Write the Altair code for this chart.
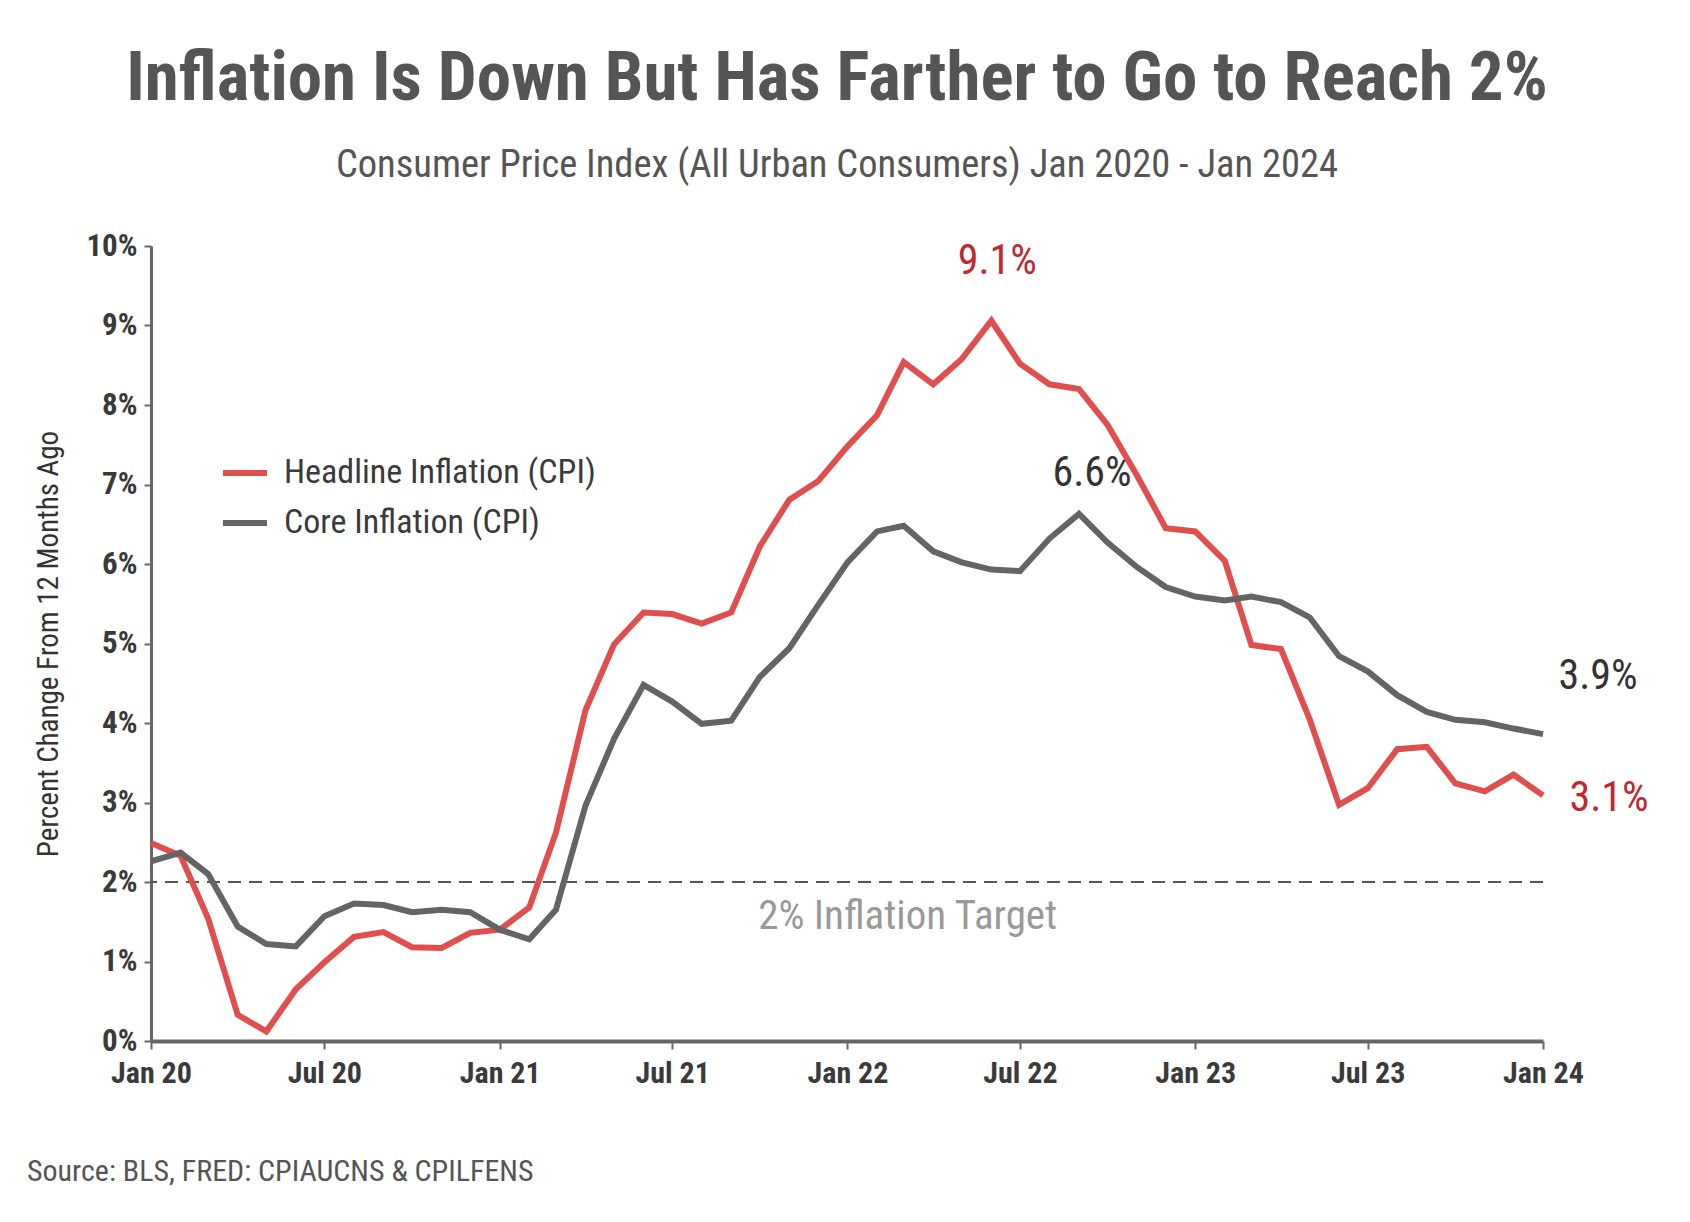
import altair as alt
import pandas as pd

FONT = "Liberation Sans Narrow, Roboto Condensed, DejaVu Sans Condensed, Arial Narrow, sans-serif"

months = [f"{y}-{m:02d}-01T00:00:00" for y in range(2020, 2024) for m in range(1, 13)] + ["2024-01-01T00:00:00"]

headline = [2.49, 2.33, 1.54, 0.33, 0.12, 0.65, 0.99, 1.31, 1.37, 1.18, 1.17, 1.36,
            1.40, 1.68, 2.62, 4.16, 4.99, 5.39, 5.37, 5.25, 5.39, 6.22, 6.81, 7.04,
            7.48, 7.87, 8.54, 8.26, 8.58, 9.06, 8.52, 8.26, 8.20, 7.75, 7.11, 6.45,
            6.41, 6.04, 4.98, 4.93, 4.05, 2.97, 3.18, 3.67, 3.70, 3.24, 3.14, 3.35,
            3.09]
core = [2.26, 2.37, 2.10, 1.44, 1.22, 1.19, 1.57, 1.73, 1.71, 1.62, 1.65, 1.62,
        1.40, 1.28, 1.65, 2.96, 3.80, 4.48, 4.27, 3.99, 4.03, 4.58, 4.94, 5.48,
        6.02, 6.41, 6.48, 6.16, 6.02, 5.93, 5.91, 6.32, 6.63, 6.27, 5.96, 5.71,
        5.59, 5.54, 5.59, 5.52, 5.33, 4.84, 4.65, 4.35, 4.14, 4.04, 4.01, 3.93,
        3.86]

series_names = ["Headline Inflation (CPI)", "Core Inflation (CPI)"]
series_colors = ["#e04e4e", "#646464"]
y_ticks = list(range(0, 11))
x_ticks = [(2020, 1), (2020, 7), (2021, 1), (2021, 7), (2022, 1), (2022, 7), (2023, 1), (2023, 7), (2024, 1)]
target = 2.0

df = pd.DataFrame({
    "date": months * 2,
    "value": headline + core,
    "series": [series_names[0]] * len(months) + [series_names[1]] * len(months),
})

W, H = 1392, 795
LEFT, TOP = 151, 246

x_scale = alt.Scale(domain=[alt.DateTime(year=2020, month=1, date=1),
                            alt.DateTime(year=2024, month=1, date=1)], nice=False)
y_scale = alt.Scale(domain=[0, 10], nice=False)

lines = alt.Chart(df).mark_line(strokeWidth=6, strokeCap="butt", strokeJoin="miter").encode(
    x=alt.X("date:T", scale=x_scale,
            axis=alt.Axis(values=[alt.DateTime(year=y, month=m, date=1) for y, m in x_ticks],
                          format="%b %y", title=None, labelFont=FONT, labelFontSize=30,
                          labelFontWeight="bold", labelColor="#3a3a3a", labelPadding=9,
                          labelFlush=False, labelOverlap=False,
                          tickSize=8, tickWidth=2, tickColor="#666666",
                          domainColor="#666666", domainWidth=4, grid=False)),
    y=alt.Y("value:Q", scale=y_scale,
            axis=alt.Axis(values=y_ticks, labelExpr="datum.value + '%'",
                          title="Percent Change From 12 Months Ago",
                          titleFont=FONT, titleFontSize=29, titleFontWeight="normal",
                          titleColor="#333333", titleX=-103, titleY=H / 2,
                          titleAngle=270, titleAlign="center", titleBaseline="middle",
                          labelFont=FONT, labelFontSize=31, labelFontWeight="bold",
                          labelColor="#3a3a3a", labelPadding=7,
                          tickSize=7, tickWidth=2, tickColor="#666666",
                          domainColor="#666666", domainWidth=3, grid=False)),
    color=alt.Color("series:N",
                    scale=alt.Scale(domain=series_names, range=series_colors),
                    legend=alt.Legend(title=None, orient="none", legendX=69, legendY=202,
                                      symbolType="stroke", symbolSize=1936,
                                      symbolStrokeWidth=6, labelFont=FONT,
                                      labelFontSize=34, labelColor="#3a3a3a",
                                      labelOffset=14, rowPadding=8, padding=0,
                                      labelLimit=0, direction="vertical")),
)

rule = alt.Chart(pd.DataFrame({"v": [target]})).mark_rule(
    color="#555555", strokeWidth=2, strokeDash=[13, 8]).encode(y=alt.Y("v:Q", scale=y_scale))

target_lbl = alt.Chart(pd.DataFrame({"date": ["2022-03-01T00:00:00"], "v": [target],
                                     "t": ["2% Inflation Target"]})).mark_text(
    font=FONT, fontSize=41, color="#999999", dy=35, dx=4, align="center", baseline="middle"
).encode(x=alt.X("date:T", scale=x_scale), y=alt.Y("v:Q", scale=y_scale), text="t:N")


def ann(date, v, label, color, dx, dy):
    return alt.Chart(pd.DataFrame({"date": [date], "v": [v], "t": [label]})).mark_text(
        font=FONT, fontSize=42, color=color, dx=dx, dy=dy, align="center", baseline="middle"
    ).encode(x=alt.X("date:T", scale=x_scale), y=alt.Y("v:Q", scale=y_scale), text="t:N")


a1 = ann(months[29], headline[29], "9.1%", "#c1272d", 6, -60)
a2 = ann(months[32], core[32], "6.6%", "#333333", 13, -41)
a3 = ann(months[48], core[48], "3.9%", "#333333", 55, -58)
a4 = ann(months[48], headline[48], "3.1%", "#c1272d", 66, 3)

source = alt.Chart(pd.DataFrame({"t": ["Source: BLS, FRED: CPIAUCNS & CPILFENS"]})).mark_text(
    font=FONT, fontSize=30, color="#555555", align="left", baseline="middle"
).encode(x=alt.value(27 - LEFT), y=alt.value(1172 - TOP), text="t:N")

chart = alt.layer(rule, lines, target_lbl, a1, a2, a3, a4, source).properties(
    width=W, height=H,
    autosize=alt.AutoSizeParams(type="none"),
    padding={"left": LEFT, "top": TOP, "right": 1690 - LEFT - W, "bottom": 1222 - TOP - H},
    title=alt.Title("Inflation Is Down But Has Farther to Go to Reach 2%",
                    subtitle="Consumer Price Index (All Urban Consumers) Jan 2020 - Jan 2024",
                    font=FONT, fontSize=69, fontWeight="bold", color="#555555",
                    subtitleFont=FONT, subtitleFontSize=38.5, subtitleColor="#555555",
                    subtitlePadding=33, anchor="middle", offset=46, dx=-10),
).configure(background="white").configure_view(stroke=None)

chart.save("out.html", embed_options={"renderer": "svg", "actions": False})
